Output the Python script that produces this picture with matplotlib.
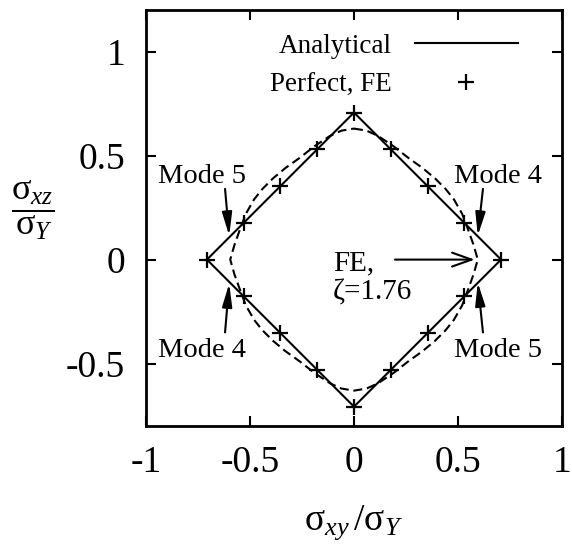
import matplotlib.pyplot as plt

plt.rcParams.update(
    {
        "font.family": "Liberation Serif",
        "mathtext.fontset": "custom",
        "mathtext.rm": "Liberation Serif",
        "mathtext.it": "Liberation Serif:italic",
        "mathtext.bf": "Liberation Serif:bold",
        "font.size": 20,
    }
)

# Analytical yield surface (diamond) and perfect-plate FE points
analytical_x = [0.0, 0.707, 0.0, -0.707, 0.0]
analytical_y = [0.707, 0.0, -0.707, 0.0, 0.707]

fe_perfect_x = [0.0, 0.177, 0.354, 0.530, 0.707, 0.530, 0.354, 0.177,
                0.0, -0.177, -0.354, -0.530, -0.707, -0.530, -0.354, -0.177]
fe_perfect_y = [0.707, 0.530, 0.354, 0.177, 0.0, -0.177, -0.354, -0.530,
                -0.707, -0.530, -0.354, -0.177, 0.0, 0.177, 0.354, 0.530]

# FE surface for imperfection zeta = 1.76
fe_zeta_x = [0.0, 0.06, 0.115, 0.19, 0.26, 0.33, 0.39, 0.44, 0.48, 0.52, 0.55, 0.575, 0.595,
             0.575, 0.55, 0.52, 0.48, 0.44, 0.39, 0.33, 0.26, 0.19, 0.115, 0.06, 0.0,
             -0.06, -0.115, -0.19, -0.26, -0.33, -0.39, -0.44, -0.48, -0.52, -0.55, -0.575, -0.595,
             -0.575, -0.55, -0.52, -0.48, -0.44, -0.39, -0.33, -0.26, -0.19, -0.115, -0.06, 0.0]
fe_zeta_y = [0.63, 0.62, 0.595, 0.545, 0.49, 0.44, 0.39, 0.34, 0.29, 0.22, 0.14, 0.07, 0.0,
             -0.07, -0.14, -0.22, -0.29, -0.34, -0.39, -0.44, -0.49, -0.545, -0.595, -0.62, -0.63,
             -0.62, -0.595, -0.545, -0.49, -0.44, -0.39, -0.34, -0.29, -0.22, -0.14, -0.07, 0.0,
             0.07, 0.14, 0.22, 0.29, 0.34, 0.39, 0.44, 0.49, 0.545, 0.595, 0.62, 0.63]

x_ticks = [-1, -0.5, 0, 0.5, 1]
x_tick_labels = ["-1", "-0.5", "0", "0.5", "1"]
y_ticks = [-0.5, 0, 0.5, 1]
y_tick_labels = ["-0.5", "0", "0.5", "1"]

# mode labels: text, text position, arrow tail, arrow head
mode_labels = ["Mode 5", "Mode 4", "Mode 4", "Mode 5"]
mode_text_xy = [(-0.73, 0.37), (0.69, 0.37), (-0.73, -0.47), (0.69, -0.47)]
mode_tail_xy = [(-0.62, 0.34), (0.62, 0.34), (-0.62, -0.35), (0.62, -0.35)]
mode_head_xy = [(-0.60, 0.115), (0.595, 0.115), (-0.60, -0.115), (0.595, -0.11)]

fig = plt.figure(figsize=(5.72, 5.46), dpi=100)
ax = fig.add_axes([146 / 572, 1 - 426 / 546, 416 / 572, 416 / 546])

ax.plot(analytical_x, analytical_y, "-", color="black", lw=1.5, label="Analytical")
ax.plot(fe_perfect_x, fe_perfect_y, "+", color="black", ms=11, mew=1.6,
        label="Perfect, FE")
ax.plot(fe_zeta_x, fe_zeta_y, color="black", lw=1.5, linestyle=(0, (4.3, 2.3)))

ax.set_xlim(-1, 1)
ax.set_ylim(-0.8, 1.2)
ax.set_xticks(x_ticks)
ax.set_xticklabels(x_tick_labels)
ax.set_yticks(y_ticks)
ax.set_yticklabels(y_tick_labels)
ax.tick_params(direction="in", length=7, width=1.5, top=True, right=True,
               labelsize=27)
ax.tick_params(axis="x", pad=14)
ax.tick_params(axis="y", pad=15)
for spine in ax.spines.values():
    spine.set_linewidth(2)

ax.set_xlabel(r"$\mathrm{\sigma}_{xy}\,/\mathrm{\sigma}_Y$", fontsize=27, va="center")
ax.xaxis.set_label_coords(0.5, -0.233)
ax.set_ylabel(r"$\dfrac{\mathrm{\sigma}_{xz}}{\mathrm{\sigma}_Y}$", fontsize=26,
              rotation=0, ha="center", va="center")
ax.yaxis.set_label_coords(-0.272, 0.519)

ax.legend(loc="upper right", bbox_to_anchor=(0.894, 0.943), markerfirst=False,
          frameon=False, borderpad=0, borderaxespad=0, handlelength=3.8,
          handletextpad=0.85, labelspacing=0.52, fontsize=19.5)

for label, txy, tail, head in zip(mode_labels, mode_text_xy, mode_tail_xy, mode_head_xy):
    ax.text(txy[0], txy[1], label, fontsize=20.5, ha="center", va="baseline")
    ax.annotate("", xy=head, xytext=tail,
                arrowprops=dict(arrowstyle="-|>,head_length=0.7,head_width=0.15",
                                color="black", lw=1.5, shrinkA=0, shrinkB=0))

ax.text(-0.10, -0.053, "FE,", fontsize=21, ha="left", va="baseline")
ax.text(-0.10, -0.19, "\u03b6=1.76", fontsize=21, ha="left", va="baseline")
ax.annotate("", xy=(0.58, 0.0), xytext=(0.197, 0.0),
            arrowprops=dict(arrowstyle="->,head_length=0.7,head_width=0.25",
                            color="black", lw=1.5, shrinkA=0, shrinkB=0))

fig.savefig("out.png", dpi=100)
